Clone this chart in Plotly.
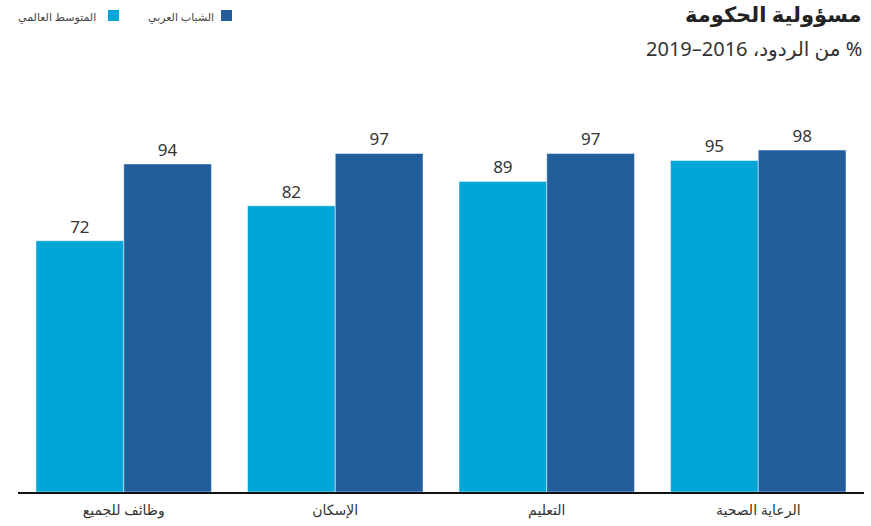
import plotly.graph_objects as go

categories = ["وظائف للجميع", "الإسكان", "التعليم", "الرعاية الصحية"]
global_avg = [72, 82, 89, 95]
arab_youth = [94, 97, 97, 98]
series_names = ["المتوسط العالمي", "الشباب العربي"]
colors = ["#00A6D6", "#235D9C"]
title_text = "مسؤولية الحكومة"
subtitle_text = "% من الردود، 2016–2019"

W, H = 871, 526
ml, mr, mt, mb = 18, 7, 143, 34
ph = H - mt - mb
pw = W - ml - mr

def py(ypx):
    return (H - mb - ypx) / ph

def px(xpx):
    return (xpx - ml) / pw

def rtl(s):
    return "\u202B" + s + "\u202C"

font = "Noto Sans, DejaVu Sans, sans-serif"

fig = go.Figure()
for name, vals, c in zip(series_names, [global_avg, arab_youth], colors):
    fig.add_trace(go.Bar(
        x=categories, y=vals, name=name,
        marker=dict(color=c, line=dict(color="white", width=0.5)),
        text=[str(v) for v in vals], textposition="outside",
        textfont=dict(size=17, color="#333333", family=font),
        cliponaxis=False, showlegend=False,
    ))

fig.update_layout(
    width=W, height=H,
    margin=dict(l=ml, r=mr, t=mt, b=mb, autoexpand=False),
    paper_bgcolor="white", plot_bgcolor="white",
    barmode="group", bargap=0.17, bargroupgap=0.0,
    font=dict(family=font, color="#333333"),
    xaxis=dict(showgrid=False, showline=True, linecolor="#111111", linewidth=2,
               automargin=False,
               ticks="", tickfont=dict(size=14, color="#333333"), ticklabelstandoff=4),
    yaxis=dict(range=[0, 100], visible=False, showgrid=False, zeroline=False,
               automargin=False),
    uniformtext=dict(mode="show", minsize=10),
)

annotations = [
    dict(text="<b>" + rtl(title_text) + "</b>", x=px(864), y=py(14), xref="paper", yref="paper",
         xanchor="right", yanchor="middle", showarrow=False,
         font=dict(size=21, color="#222222", family=font)),
    dict(text=rtl(subtitle_text), x=px(864), y=py(48), xref="paper", yref="paper",
         xanchor="right", yanchor="middle", showarrow=False,
         font=dict(size=20, color="#333333", family=font)),
    dict(text=rtl(series_names[1]), x=px(216), y=py(16), xref="paper", yref="paper",
         xanchor="right", yanchor="middle", showarrow=False,
         font=dict(size=11, color="#444444", family=font)),
    dict(text=rtl(series_names[0]), x=px(98), y=py(16), xref="paper", yref="paper",
         xanchor="right", yanchor="middle", showarrow=False,
         font=dict(size=11, color="#444444", family=font)),
]
fig.update_layout(annotations=annotations)

shapes = [
    dict(type="rect", xref="paper", yref="paper", x0=px(221), x1=px(232), y0=py(21), y1=py(10),
         fillcolor=colors[1], line=dict(width=0)),
    dict(type="rect", xref="paper", yref="paper", x0=px(108), x1=px(119), y0=py(21), y1=py(10),
         fillcolor=colors[0], line=dict(width=0)),
]
fig.update_layout(shapes=shapes)

fig.write_html("out.html")
